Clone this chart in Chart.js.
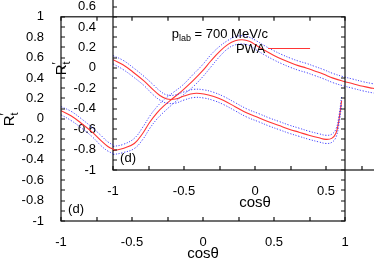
<!DOCTYPE html>
<html><head><meta charset="utf-8">
<script src="https://cdn.jsdelivr.net/npm/chart.js@4.4.0/dist/chart.umd.min.js"></script>
<style>
html,body{margin:0;padding:0;background:#fff;}
#wrap{position:relative;width:374px;height:262px;overflow:hidden;background:#fff;}
canvas{position:absolute;}
</style></head><body>
<div id="wrap">
<canvas id="inner" width="374" height="262" style="left:52px;top:-51px"></canvas>
<canvas id="outer" width="374" height="262" style="left:0px;top:0px"></canvas>
</div>
<script>
// ---- data (cosθ, R't) ----
const pX  = [-1, -0.93, -0.86, -0.78, -0.72, -0.67, -0.62, -0.56, -0.50, -0.43, -0.36, -0.29, -0.22, -0.14, -0.06, 0.03, 0.10, 0.17, 0.24, 0.31, 0.38, 0.45, 0.50, 0.54, 0.57, 0.59, 0.61];
const pY  = [0.08, 0.03, -0.04, -0.13, -0.21, -0.27, -0.305, -0.305, -0.275, -0.25, -0.255, -0.28, -0.32, -0.38, -0.44, -0.49, -0.53, -0.565, -0.60, -0.63, -0.66, -0.685, -0.70, -0.69, -0.64, -0.52, -0.32];
const pUp = [0.12, 0.075, 0.005, -0.085, -0.16, -0.225, -0.265, -0.265, -0.235, -0.21, -0.215, -0.24, -0.28, -0.34, -0.40, -0.45, -0.49, -0.525, -0.56, -0.59, -0.62, -0.645, -0.66, -0.65, -0.60, -0.48, -0.28];
const pLo = [0.04, -0.015, -0.085, -0.175, -0.26, -0.315, -0.345, -0.345, -0.315, -0.29, -0.295, -0.32, -0.36, -0.42, -0.48, -0.53, -0.57, -0.605, -0.64, -0.67, -0.70, -0.725, -0.74, -0.73, -0.68, -0.56, -0.36];

const qX  = [-1, -0.93, -0.85, -0.79, -0.74, -0.69, -0.64, -0.58, -0.51, -0.44, -0.37, -0.31, -0.25, -0.19, -0.14, -0.09, -0.04, 0.01, 0.07, 0.13, 0.19, 0.25, 0.31, 0.36, 0.42, 0.48, 0.55, 0.62, 0.69, 0.76, 0.83, 0.90, 1.0];
const qY  = [-0.81, -0.79, -0.74, -0.64, -0.53, -0.44, -0.37, -0.30, -0.22, -0.13, -0.03, 0.07, 0.16, 0.23, 0.265, 0.275, 0.26, 0.22, 0.17, 0.125, 0.085, 0.05, 0.02, 0.00, -0.03, -0.06, -0.10, -0.13, -0.155, -0.18, -0.20, -0.22, -0.25];
const qUp = [-0.77, -0.75, -0.69, -0.58, -0.47, -0.38, -0.31, -0.245, -0.17, -0.07, 0.03, 0.13, 0.21, 0.27, 0.305, 0.315, 0.30, 0.265, 0.215, 0.17, 0.13, 0.095, 0.065, 0.045, 0.015, -0.015, -0.055, -0.085, -0.11, -0.135, -0.155, -0.175, -0.205];
const qLo = [-0.85, -0.83, -0.79, -0.70, -0.59, -0.50, -0.43, -0.355, -0.27, -0.19, -0.09, 0.01, 0.11, 0.19, 0.225, 0.235, 0.22, 0.175, 0.125, 0.08, 0.04, 0.005, -0.025, -0.045, -0.075, -0.105, -0.145, -0.175, -0.20, -0.225, -0.245, -0.265, -0.295];

const outerCut = -0.62;   // the back panel's curve is only visible up to here
const xLabelled = [-1, -0.5, 0, 0.5, 1];
const yLabelled = [-1, -0.8, -0.6, -0.4, -0.2, 0, 0.2, 0.4, 0.6, 0.8, 1];
const xLabelTexts = ['-1', '-0.5', '0', '0.5', '1'];
const yLabelTexts = ['-1', '-0.8', '-0.6', '-0.4', '-0.2', '0', '0.2', '0.4', '0.6', '0.8', '1'];
const xTitle = 'cosθ';
const energyText = ['p', 'lab', ' = 700 MeV/c'];
const legendText = 'PWA';
const panelTag = '(d)';

// ---- helpers ----
const FONT = "'Liberation Sans', Arial, Helvetica, sans-serif";
const RED = '#ff3535', BLUE = 'rgba(40,40,255,0.85)';
function pts(xs, ys, maxX) {
  const out = [];
  xs.forEach((x, i) => { if (maxX === undefined || x <= maxX + 1e-9) out.push({x: x, y: ys[i]}); });
  return out;
}
function line(data, dashed) {
  return {
    data: data, showLine: true, pointRadius: 0, borderWidth: dashed ? 1 : 1.1,
    borderColor: dashed ? BLUE : RED, borderDash: dashed ? [1.2, 1.6] : [],
    tension: 0.4, fill: false
  };
}
function lab(list, texts, v) {
  const r = Math.round(v * 100) / 100;
  const i = list.findIndex(u => Math.abs(u - r) < 1e-6);
  return i >= 0 ? texts[i] : '';
}

const decor = {
  id: 'decor',
  afterDraw(chart, args, opts) {
    const ctx = chart.ctx, a = chart.chartArea, xs = chart.scales.x, ys = chart.scales.y;
    ctx.save();
    ctx.strokeStyle = '#111'; ctx.lineWidth = 1.2;
    ctx.strokeRect(a.left, a.top, a.right - a.left, a.bottom - a.top);
    const L = 4;
    ctx.beginPath();
    xs.ticks.forEach(t => {
      const px = Math.round(xs.getPixelForValue(t.value));
      ctx.moveTo(px, a.bottom); ctx.lineTo(px, a.bottom - L);
      ctx.moveTo(px, a.top); ctx.lineTo(px, a.top + L);
    });
    ys.ticks.forEach(t => {
      const py = Math.round(ys.getPixelForValue(t.value));
      ctx.moveTo(a.left, py); ctx.lineTo(a.left + L, py);
      ctx.moveTo(a.right, py); ctx.lineTo(a.right - L, py);
    });
    ctx.stroke();
    ctx.fillStyle = '#000';
    // x title
    ctx.font = '15px ' + FONT; ctx.textAlign = 'center'; ctx.textBaseline = 'middle';
    ctx.fillText(xTitle, (a.left + a.right) / 2, a.bottom + 33);
    // y title R't
    ctx.save();
    ctx.translate(a.left - 51, (a.top + a.bottom) / 2);
    ctx.rotate(-Math.PI / 2);
    ctx.textAlign = 'left'; ctx.textBaseline = 'middle';
    ctx.font = '15px ' + FONT;
    const wR = ctx.measureText('R').width;
    const x0 = -(wR + 4) / 2;
    ctx.fillText('R', x0, 0);
    ctx.font = '12px ' + FONT;
    ctx.fillText('\u2032', x0 + wR, -4);
    ctx.font = '11px ' + FONT;
    ctx.fillText('t', x0 + wR, 5);
    ctx.restore();
    // panel tag
    ctx.font = '13px ' + FONT; ctx.textAlign = 'left'; ctx.textBaseline = 'middle';
    ctx.fillText(panelTag, xs.getPixelForValue(-0.95), ys.getPixelForValue(-0.89));
    if (opts.legend) {
      ctx.textBaseline = 'alphabetic';
      let px = xs.getPixelForValue(-0.22), py = ys.getPixelForValue(0.79);
      ctx.font = '13px ' + FONT; ctx.fillText(energyText[0], px, py); px += ctx.measureText(energyText[0]).width;
      ctx.font = '9px ' + FONT; ctx.fillText(energyText[1], px, py + 3); px += ctx.measureText(energyText[1]).width;
      ctx.font = '13px ' + FONT; ctx.fillText(energyText[2], px, py);
      ctx.textAlign = 'right'; ctx.textBaseline = 'middle';
      ctx.fillText(legendText, xs.getPixelForValue(0.437), ys.getPixelForValue(0.68));
      ctx.strokeStyle = RED; ctx.lineWidth = 1.1;
      ctx.beginPath();
      const ly = Math.round(ys.getPixelForValue(0.69)) + 0.5;
      ctx.moveTo(xs.getPixelForValue(0.458), ly); ctx.lineTo(xs.getPixelForValue(0.754), ly);
      ctx.stroke();
    }
    ctx.restore();
  }
};

function make(id, datasets, legend) {
  return new Chart(document.getElementById(id), {
    type: 'scatter',
    data: { datasets: datasets },
    plugins: [decor],
    options: {
      responsive: false, animation: false, devicePixelRatio: 1,
      layout: { padding: { top: 15, right: 29, left: 0, bottom: 0 } },
      plugins: { legend: { display: false }, tooltip: { enabled: false }, decor: { legend: legend } },
      scales: {
        x: {
          type: 'linear', min: -1, max: 1,
          grid: { display: false }, border: { display: false },
          afterFit: s => { s.height = 41; },
          ticks: { stepSize: 0.25, autoSkip: false, maxRotation: 0, padding: 6, color: '#000',
                   font: { family: FONT, size: 13 }, callback: v => lab(xLabelled, xLabelTexts, v) }
        },
        y: {
          type: 'linear', min: -1, max: 1,
          grid: { display: false }, border: { display: false },
          afterFit: s => { s.width = 61; },
          ticks: { stepSize: 0.1, autoSkip: false, padding: 9, color: '#000',
                   font: { family: FONT, size: 13 }, callback: v => lab(yLabelled, yLabelTexts, v) }
        }
      }
    }
  });
}

make('inner', [
  line(pts(pX, pUp), true), line(pts(pX, pLo), true), line(pts(pX, pY), false),
  line(pts(qX, qUp), true), line(pts(qX, qLo), true), line(pts(qX, qY), false)
], false);

make('outer', [
  line(pts(pX, pUp, outerCut), true), line(pts(pX, pLo, outerCut), true), line(pts(pX, pY, outerCut), false)
], true);
</script>
</body></html>
